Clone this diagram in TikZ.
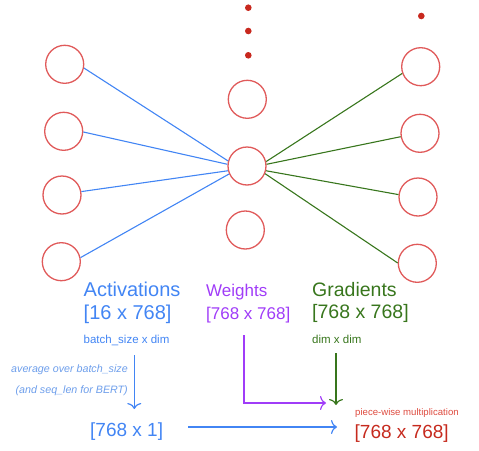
\documentclass[tikz,border=0pt]{standalone}
\usepackage{fontspec}
\setmainfont{Liberation Sans}
\usetikzlibrary{arrows.meta}
\definecolor{circred}{HTML}{E05A5A}
\definecolor{dotred}{HTML}{C8281E}
\definecolor{blueln}{HTML}{4285F4}
\definecolor{greenln}{HTML}{38761D}
\definecolor{purp}{HTML}{A03CF8}
\definecolor{avgblue}{HTML}{6D9EEB}
\definecolor{redtxt}{HTML}{C62A1E}
\definecolor{piecered}{HTML}{DE4B3F}
\newcommand{\fsz}[1]{\fontsize{#1pt}{#1pt}\selectfont}
\begin{document}
\begin{tikzpicture}[x=1pt,y=-1pt,
  neuron/.style={circle,draw=circred,line width=1.3pt,minimum size=38pt,inner sep=0pt},
  reddot/.style={circle,fill=dotred,minimum size=6.6pt,inner sep=0pt},
  lbl/.style={anchor=base west,inner sep=0pt},
  lble/.style={anchor=base east,inner sep=0pt},
  bconn/.style={draw=blueln,line width=1.1pt},
  gconn/.style={draw=greenln,line width=1.1pt},
  tip/.style={-{Computer Modern Rightarrow[length=6pt,width=14pt,line width=1.2pt]}}
]
\useasboundingbox (0,0) rectangle (479,450);
% left column
\node[neuron] (L1) at (64.7,64.3) {};
\node[neuron] (L2) at (63.7,131.3) {};
\node[neuron] (L3) at (62,195) {};
\node[neuron] (L4) at (61.3,261.7) {};
% middle column
\node[reddot] (D1) at (248.3,7.7) {};
\node[reddot] (D2) at (248.3,31) {};
\node[reddot] (D3) at (248.3,55.3) {};
\node[neuron] (CT) at (247.3,99.3) {};
\node[neuron] (C) at (247,166) {};
\node[neuron] (CB) at (245.3,230) {};
% right column
\node[reddot] (D4) at (421.3,16) {};
\node[neuron] (R1) at (420.7,66.7) {};
\node[neuron] (R2) at (420,133.3) {};
\node[neuron] (R3) at (418,197) {};
\node[neuron] (R4) at (417.3,263.3) {};
% connectors
\draw[bconn] (L1.-11) -- (C.165);
\draw[bconn] (L2.-2) -- (C.175);
\draw[bconn] (L3.10) -- (C.194);
\draw[bconn] (L4.12) -- (C.204);
\draw[gconn] (C.13) -- (R1.200);
\draw[gconn] (C.5) -- (R2.190);
\draw[gconn] (C.-14) -- (R3.173);
\draw[gconn] (C.-23) -- (R4.179);
% labels
\node[lbl,text=blueln] (act) at (83.5,296.7) {\fsz{20}Activations};
\node[lbl,text=blueln] (actd) at (83.5,319) {\fsz{20}[16 x 768]};
\node[lbl,text=blueln] (bs) at (83.5,343.3) {\fsz{11.5}batch\_size x dim};
\node[lbl,text=purp] (w) at (206,296) {\fsz{17}Weights};
\node[lbl,text=purp] (wd) at (206,319) {\fsz{17}[768 x 768]};
\node[lbl,text=greenln] (g) at (312,296) {\fsz{19.5}Gradients};
\node[lbl,text=greenln] (gd) at (312,318.5) {\fsz{19.5}[768 x 768]};
\node[lbl,text=greenln] (dd) at (312,343) {\fsz{11.5}dim x dim};
\node[lble,text=avgblue] (avg1) at (128,372.5) {\fsz{10.7}\itshape average over batch\_size};
\node[lble,text=avgblue] (avg2) at (128,393.5) {\fsz{10.7}\itshape (and seq\_len for BERT)};
\node[lbl,text=blueln] (v1) at (90,436) {\fsz{19}[768 x 1]};
\node[lbl,text=piecered] (pw) at (355,415) {\fsz{9.6}piece-wise multiplication};
\node[lbl,text=redtxt] (res) at (354.5,438) {\fsz{19}[768 x 768]};
% arrows
\coordinate (a1s) at (134.3,355);
\coordinate (a1e) at (134.3,409);
\coordinate (ps) at (244,335);
\coordinate (pc) at (244,403);
\coordinate (pe) at (326,403);
\coordinate (gs) at (336,353);
\coordinate (ge) at (336,405);
\coordinate (hs) at (188,427);
\coordinate (he) at (337,427);
\draw[blueln,line width=1.2pt,tip] (a1s) -- (a1e);
\draw[purp,line width=1.3pt,tip] (ps) -- (pc) -- (pe);
\draw[greenln,line width=1.3pt,tip] (gs) -- (ge);
\draw[blueln,line width=1.3pt,tip] (hs) -- (he);
\end{tikzpicture}
\end{document}
